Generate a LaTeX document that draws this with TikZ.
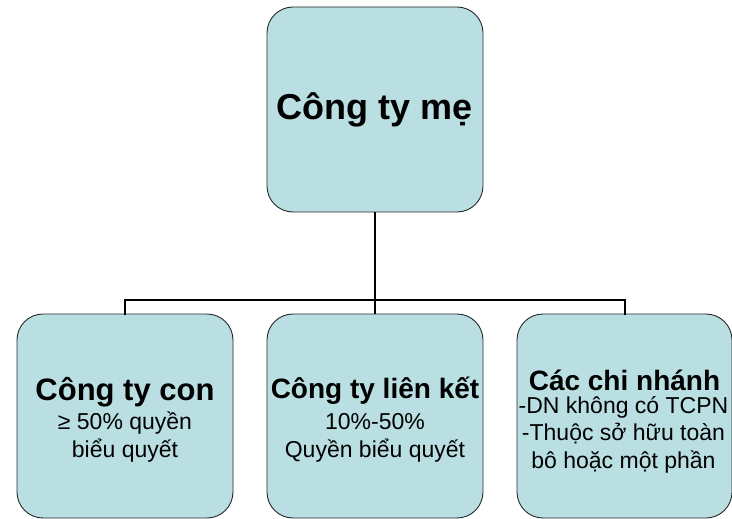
\documentclass[tikz,border=0pt]{standalone}
\usepackage{fontspec}
\setmainfont{Liberation Sans}
\definecolor{boxfill}{RGB}{186,223,227}
\definecolor{boxline}{RGB}{40,40,40}
\begin{document}
\begin{tikzpicture}[x=1pt,y=-1pt,
  orgbox/.style={draw=boxline, line width=0.9pt, fill=boxfill, rounded corners=26pt,
    minimum width=216pt, minimum height=204pt, align=center, inner sep=0pt},
  conn/.style={draw=black, line width=2pt},
  titlef/.style={font=\bfseries\fontsize{28}{32}\selectfont, anchor=base, inner sep=0pt},
  subf/.style={font=\fontsize{23}{27.5}\selectfont, anchor=base, align=center, inner sep=0pt}]
\useasboundingbox (0,0) rectangle (732,519);

% parent company
\node[orgbox, minimum height=205pt, font=\bfseries\fontsize{36}{40}\selectfont] (me) at (375,109.5) {Công ty mẹ};

% subsidiaries
\node[orgbox] (con) at (125,416) {};
\node[orgbox] (lk) at (375,416) {};
\node[orgbox, minimum width=215pt] (chi) at (624.5,416) {};

% texts (base anchor of a multi-line node sits on its last line)
\node[titlef, font=\bfseries\fontsize{31}{34}\selectfont] (conT) at (125,400) {Công ty con};
\node[subf] (conS) at (125,457) {≥ 50\% quyền\\biểu quyết};

\node[titlef] (lkT) at (375,398) {Công ty liên kết};
\node[subf] (lkS) at (375,457) {10\%-50\%\\Quyền biểu quyết};

\node[titlef] (chiT) at (624.5,390) {Các chi nhánh};
\node[subf] (chiS) at (623.5,468) {-DN không có TCPN\\-Thuộc sở hữu toàn\\bô hoặc một phần};

% connectors
\coordinate (bus) at (375,300);
\draw[conn] (me.south) -- (bus);
\draw[conn, line cap=rect] (con.north) -- (con.north |- bus) -- (chi.north |- bus) -- (chi.north);
\draw[conn] (bus) -- (lk.north);
\end{tikzpicture}
\end{document}
